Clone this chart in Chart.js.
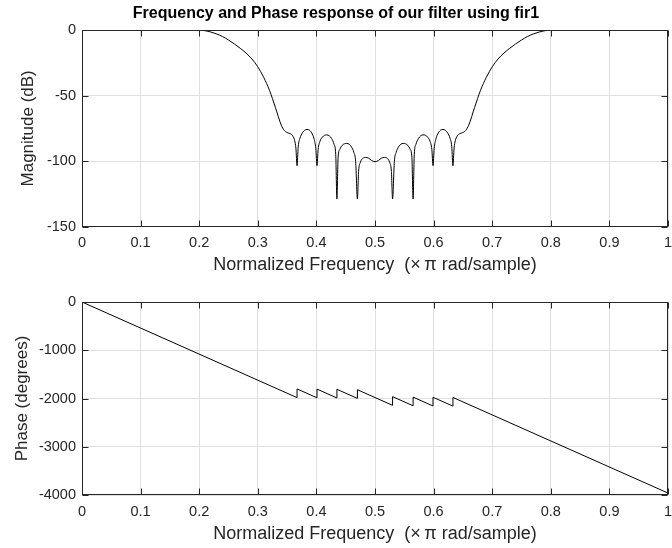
<!DOCTYPE html>
<html>
<head>
<meta charset="utf-8">
<title>Frequency and Phase response</title>
<script src="https://cdn.jsdelivr.net/npm/chart.js@4.4.1/dist/chart.umd.min.js"></script>
<style>
  body { margin: 0; background: #fff; }
  .wrap { position: relative; width: 672px; height: 548px; }
  canvas { position: absolute; left: 0; }
  #magChart { top: 0; }
  #phaseChart { top: 276px; }
</style>
</head>
<body>
<div class="wrap">
  <canvas id="magChart" width="672" height="276"></canvas>
  <canvas id="phaseChart" width="672" height="272"></canvas>
</div>
<script>
// Magnitude response (dB)
const magFreq = [
  0, 0.05, 0.1, 0.15, 0.2, 0.21, 0.22, 0.23, 0.24, 0.25, 0.26, 0.27, 0.28, 0.29,
  0.3, 0.31, 0.32, 0.33, 0.34, 0.345, 0.35, 0.355, 0.36, 0.363, 0.365, 0.367,
  0.369, 0.372, 0.376, 0.38, 0.384, 0.388, 0.392, 0.396, 0.399, 0.401,
  0.403, 0.406, 0.41, 0.414, 0.418, 0.422, 0.426, 0.43, 0.433, 0.435,
  0.437, 0.44, 0.444, 0.448, 0.452, 0.456, 0.46, 0.464, 0.467, 0.47,
  0.472, 0.475, 0.479, 0.484, 0.489, 0.494, 0.5,
  0.506, 0.511, 0.516, 0.521, 0.525, 0.528, 0.53,
  0.533, 0.536, 0.54, 0.544, 0.548, 0.552, 0.556, 0.56, 0.563, 0.565,
  0.567, 0.57, 0.574, 0.578, 0.582, 0.586, 0.59, 0.594, 0.597, 0.599,
  0.601, 0.604, 0.608, 0.612, 0.616, 0.62, 0.624, 0.628, 0.631, 0.633,
  0.635, 0.637, 0.64, 0.645, 0.65, 0.655, 0.66, 0.67, 0.68, 0.69,
  0.7, 0.71, 0.72, 0.73, 0.74, 0.75, 0.76, 0.77, 0.78, 0.79, 0.8, 0.85, 0.9, 0.95, 1
];
const magDb = [
  0, 0, 0, 0, -0.05, -0.4, -1.4, -2.9, -4.9, -7.5, -10.5, -13.8, -17.5, -22,
  -28, -36, -46, -59, -72.5, -76.5, -78.2, -79, -81, -84.5, -90, -103.5,
  -89, -82.5, -78.5, -76.5, -75.8, -76.4, -78.5, -83, -90.5, -103.5,
  -91, -85, -81.8, -80.3, -80, -80.7, -82.8, -87, -95, -129,
  -97.5, -91, -88, -86.8, -86.5, -87.2, -89.3, -93.5, -100.5, -129,
  -108, -101, -98, -97.2, -97.8, -99.5, -100.5,
  -99.5, -97.8, -97.2, -98, -101, -108, -129,
  -100.5, -93.5, -89.3, -87.2, -86.5, -86.8, -88, -91, -97.5, -129,
  -95, -87, -82.8, -80.7, -80, -80.3, -81.8, -85, -91, -103.5,
  -90.5, -83, -78.5, -76.4, -75.8, -76.5, -78.5, -82.5, -89, -103.5,
  -90, -84.5, -81, -79, -78.2, -76.5, -72.5, -59, -46, -36,
  -28, -22, -17.5, -13.8, -10.5, -7.5, -4.9, -2.9, -1.4, -0.4, -0.05, 0, 0, 0, 0
];

// Unwrapped phase (degrees): linear segments with +180 jumps at the stopband nulls
const phaseFreq = [0, 0.367, 0.367, 0.401, 0.401, 0.435, 0.435, 0.47, 0.47,
  0.53, 0.53, 0.565, 0.565, 0.599, 0.599, 0.633, 0.633, 1];
const phaseDeg = [0, -1982, -1802, -1985, -1805, -1989, -1809, -1998, -1818,
  -2142, -1962, -2151, -1971, -2155, -1975, -2158, -1978, -3960];

// Tick labels
const freqTicks = [0, 0.1, 0.2, 0.3, 0.4, 0.5, 0.6, 0.7, 0.8, 0.9, 1];
const magTicks = [-150, -100, -50, 0];
const phaseTicks = [-4000, -3000, -2000, -1000, 0];

const FONT = "'Liberation Sans', Arial, Helvetica, sans-serif";
const TEXT = '#262626';
const GRID = '#dfdfdf';
const XLABEL = 'Normalized Frequency  (\u00d7\u2009\u03c0 rad/sample)';

Chart.defaults.font.family = FONT;
Chart.defaults.color = TEXT;

// MATLAB style box with ticks pointing inward
const boxPlugin = {
  id: 'box',
  afterDraw(chart) {
    const { ctx, chartArea: a, scales } = chart;
    const L = Math.round(a.left) + 0.5, R = Math.round(a.right) - 0.5;
    const T = Math.round(a.top) + 0.5, B = Math.round(a.bottom) - 0.5;
    ctx.save();
    ctx.strokeStyle = TEXT;
    ctx.lineWidth = 1;
    ctx.strokeRect(L, T, R - L, B - T);
    ctx.beginPath();
    scales.x.ticks.forEach(t => {
      const px = Math.round(scales.x.getPixelForValue(t.value)) + 0.5;
      ctx.moveTo(px, B); ctx.lineTo(px, B - 6);
      ctx.moveTo(px, T); ctx.lineTo(px, T + 6);
    });
    scales.y.ticks.forEach(t => {
      const py = Math.round(scales.y.getPixelForValue(t.value)) + 0.5;
      ctx.moveTo(L, py); ctx.lineTo(L + 6, py);
      ctx.moveTo(R, py); ctx.lineTo(R - 6, py);
    });
    ctx.stroke();
    ctx.restore();
  }
};

function makeChart(id, xs, ys, yTicks, yMin, yLabel, opts) {
  const ctx = document.getElementById(id);
  const points = xs.map((f, i) => ({ x: f, y: ys[i] }));
  return new Chart(ctx, {
    type: 'line',
    data: {
      datasets: [{
        data: points,
        borderColor: '#000',
        borderWidth: 1,
        pointRadius: 0,
        fill: false,
        cubicInterpolationMode: opts.smooth ? 'monotone' : 'default',
        tension: 0
      }]
    },
    options: {
      responsive: false,
      animation: false,
      devicePixelRatio: 1,
      layout: { padding: { top: opts.padTop, right: 0, left: 0, bottom: 0 } },
      plugins: {
        legend: { display: false },
        tooltip: { enabled: false },
        title: {
          display: !!opts.title,
          text: opts.title || '',
          color: '#000',
          font: { size: 16, weight: 'bold' },
          padding: { top: 4, bottom: 7 }
        }
      },
      scales: {
        x: {
          type: 'linear',
          min: 0,
          max: 1,
          afterBuildTicks: s => { s.ticks = freqTicks.map(v => ({ value: v })); },
          afterFit: s => { s.height = opts.xHeight; s.paddingRight = 4; s.paddingLeft = 0; },
          grid: { color: GRID, drawTicks: false },
          border: { display: false },
          ticks: { font: { size: 14.5 }, padding: 8, maxRotation: 0, callback: v => String(v) },
          title: { display: true, text: XLABEL, font: { size: 18 }, padding: { top: 0, bottom: opts.xTitlePad } }
        },
        y: {
          min: yMin,
          max: 0,
          afterBuildTicks: s => { s.ticks = yTicks.map(v => ({ value: v })); },
          afterFit: s => { s.width = 82; },
          grid: { color: GRID, drawTicks: false },
          border: { display: false },
          ticks: { font: { size: 14.5 }, padding: 6, callback: v => String(v) },
          title: { display: true, text: yLabel, font: { size: 17 }, padding: { top: opts.yTitlePad, bottom: 0 } }
        }
      }
    },
    plugins: [boxPlugin]
  });
}

makeChart('magChart', magFreq, magDb, magTicks, -150, 'Magnitude (dB)', {
  smooth: true,
  title: 'Frequency and Phase response of our filter using fir1',
  padTop: 0,
  xHeight: 49.5,
  xTitlePad: 0,
  yTitlePad: 18
});

makeChart('phaseChart', phaseFreq, phaseDeg, phaseTicks, -4000, 'Phase (degrees)', {
  smooth: false,
  title: null,
  padTop: 26,
  xHeight: 53,
  xTitlePad: 3,
  yTitlePad: 12
});
</script>
</body>
</html>
